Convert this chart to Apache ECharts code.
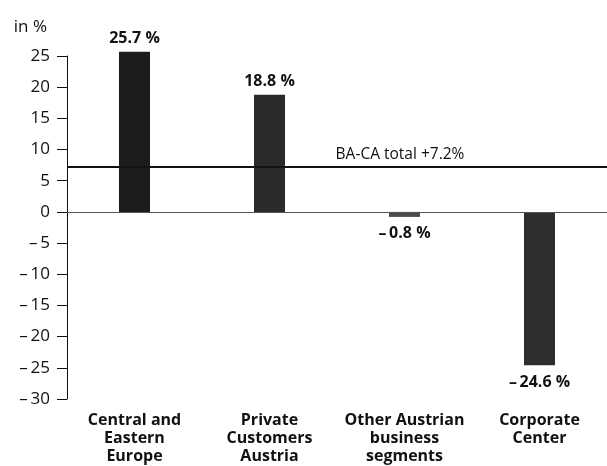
<!DOCTYPE html>
<html>
<head>
<meta charset="utf-8">
<script src="https://cdn.jsdelivr.net/npm/echarts@6/dist/echarts.min.js"></script>
<style>html,body{margin:0;padding:0;background:#fff}#c{width:607px;height:466px}</style>
</head>
<body>
<div id="c"></div>
<script>
var categories = ['Central and\nEastern\nEurope', 'Private\nCustomers\nAustria', 'Other Austrian\nbusiness\nsegments', 'Corporate\nCenter'];
var values = [25.7, 18.8, -0.8, -24.6];
var barColors = ['#1c1c1c', '#2a2a2a', '#4a4a4a', '#2e2e2e'];
var totalValue = 7.2;
var totalLabel = 'BA-CA total +7.2%';
var yMin = -30, yMax = 25, yStep = 5;

var FONT = '"Open Sans", "DejaVu Sans", sans-serif';
function fmtNum(v) {
  var s = Math.abs(v).toString();
  return v < 0 ? '\u2013\u2009' + s : s;
}

var chart = echarts.init(document.getElementById('c'), null, {renderer: 'canvas'});
chart.setOption({
  animation: false,
  textStyle: {fontFamily: FONT},
  grid: {left: 67, right: 0, top: 56, bottom: 67},
  xAxis: {
    type: 'category',
    data: categories,
    axisLine: {show: false, onZero: false},
    axisTick: {show: false},
    axisLabel: {
      margin: 12, color: '#111', fontFamily: FONT, fontWeight: 'bold',
      fontSize: 16, lineHeight: 18, interval: 0
    }
  },
  yAxis: {
    type: 'value',
    min: yMin, max: yMax, interval: yStep,
    name: 'in %',
    nameLocation: 'end',
    nameGap: 20,
    nameTextStyle: {color: '#111', fontSize: 17, fontFamily: FONT, align: 'right', padding: [0, 20, 0, 0]},
    axisLine: {show: true, lineStyle: {color: '#111', width: 1}},
    axisTick: {show: true, inside: false, length: 10, lineStyle: {color: '#111'}},
    axisLabel: {margin: 17, color: '#111', fontSize: 17, fontFamily: FONT, formatter: function (v) { return fmtNum(v); }},
    splitLine: {show: false}
  },
  series: [{
    type: 'bar',
    barWidth: 31,
    clip: false,
    data: values.map(function (v, i) {
      return {
        value: v,
        itemStyle: {color: barColors[i]},
        label: {position: v >= 0 ? 'top' : 'bottom', distance: v >= 0 ? 5 : 9}
      };
    }),
    label: {
      show: true, distance: 5, color: '#111', fontWeight: 'bold', fontSize: 16, fontFamily: FONT,
      formatter: function (p) { return fmtNum(p.value) + ' %'; }
    },
    markLine: {
      silent: true,
      symbol: 'none',
      data: [
        {yAxis: 0, lineStyle: {color: '#555', width: 1, type: 'solid'}, label: {show: false}},
        {yAxis: totalValue, lineStyle: {color: '#111', width: 2, type: 'solid'},
         label: {show: true, position: 'middle', formatter: totalLabel, color: '#111', fontSize: 15.5, fontFamily: FONT, offset: [63, 0], distance: 4}}
      ]
    }
  }]
});
</script>
</body>
</html>
